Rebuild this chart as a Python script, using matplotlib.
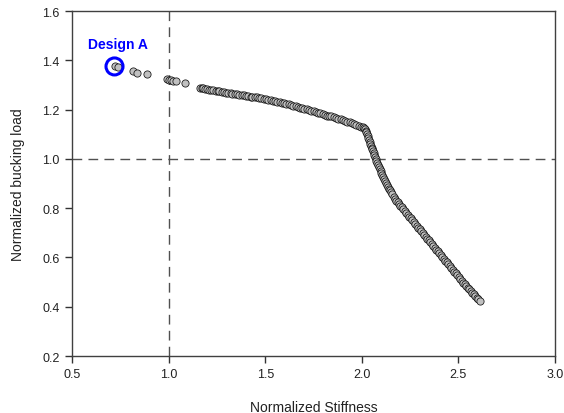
import matplotlib
matplotlib.use("Agg")
import matplotlib.pyplot as plt

plt.rcParams['font.family'] = ['Liberation Sans', 'DejaVu Sans']

# Isolated designs at low stiffness
early_x = [0.723, 0.740, 0.817, 0.838, 0.890, 0.993, 1.002, 1.011, 1.024, 1.038, 1.085]
early_y = [1.377, 1.372, 1.358, 1.349, 1.343, 1.323, 1.322, 1.321, 1.317, 1.315, 1.309]

# Upper front (nearly linear band)
band_x = [1.165, 1.172, 1.180, 1.190, 1.198, 1.210, 1.220, 1.232, 1.243, 1.255,
          1.262, 1.275, 1.288, 1.297, 1.310, 1.322, 1.330, 1.342, 1.355, 1.366,
          1.378, 1.388, 1.400, 1.412, 1.425, 1.433, 1.446, 1.458, 1.470, 1.480,
          1.492, 1.505, 1.516, 1.528, 1.540, 1.551, 1.563, 1.575, 1.587, 1.598,
          1.610, 1.622, 1.633, 1.646, 1.657, 1.668, 1.680, 1.692, 1.703, 1.715,
          1.727, 1.738, 1.750, 1.762, 1.773, 1.785, 1.797, 1.808, 1.820, 1.832,
          1.843, 1.855, 1.867, 1.878, 1.890, 1.902, 1.913, 1.925, 1.937, 1.948,
          1.960, 1.972, 1.983, 1.995, 2.005, 2.012]
band_y = [1.288, 1.287, 1.286, 1.284, 1.283, 1.281, 1.280, 1.278, 1.277, 1.275,
          1.274, 1.272, 1.271, 1.269, 1.268, 1.266, 1.265, 1.264, 1.262, 1.260,
          1.259, 1.258, 1.256, 1.255, 1.253, 1.252, 1.251, 1.249, 1.247, 1.246,
          1.244, 1.242, 1.240, 1.238, 1.236, 1.234, 1.232, 1.230, 1.228, 1.226,
          1.224, 1.221, 1.219, 1.216, 1.213, 1.211, 1.208, 1.206, 1.203, 1.201,
          1.198, 1.196, 1.193, 1.190, 1.188, 1.185, 1.183, 1.179, 1.175, 1.173,
          1.172, 1.170, 1.166, 1.163, 1.160, 1.158, 1.154, 1.151, 1.148, 1.144,
          1.141, 1.138, 1.135, 1.131, 1.128, 1.124]

# Steep descending branch
desc_x = [2.017, 2.020, 2.024, 2.027, 2.030, 2.034, 2.037, 2.041, 2.044, 2.048,
          2.051, 2.055, 2.058, 2.061, 2.065, 2.068, 2.072, 2.075, 2.079, 2.084,
          2.089, 2.094, 2.098, 2.101, 2.105, 2.110, 2.115, 2.120, 2.125, 2.131,
          2.136, 2.141, 2.146, 2.151, 2.158, 2.165, 2.172, 2.179, 2.186, 2.193,
          2.200, 2.206, 2.213, 2.222, 2.230, 2.239, 2.246, 2.253, 2.260, 2.269,
          2.277, 2.286, 2.293, 2.299, 2.306, 2.315, 2.323, 2.332, 2.339, 2.346,
          2.353, 2.362, 2.370, 2.379, 2.386, 2.393, 2.400, 2.408, 2.417, 2.425,
          2.432, 2.439, 2.446, 2.455, 2.463, 2.472, 2.479, 2.486, 2.493, 2.502,
          2.510, 2.519, 2.526, 2.532, 2.539, 2.548, 2.556, 2.565, 2.572, 2.579,
          2.586, 2.595, 2.603, 2.612]
desc_y = [1.121, 1.114, 1.108, 1.101, 1.093, 1.085, 1.077, 1.069, 1.060, 1.052,
          1.045, 1.039, 1.032, 1.024, 1.016, 1.008, 1.000, 0.991, 0.983, 0.975,
          0.967, 0.959, 0.951, 0.943, 0.935, 0.927, 0.918, 0.910, 0.902, 0.894,
          0.886, 0.879, 0.873, 0.866, 0.856, 0.847, 0.837, 0.830, 0.824, 0.817,
          0.810, 0.804, 0.797, 0.789, 0.780, 0.772, 0.765, 0.759, 0.752, 0.744,
          0.736, 0.728, 0.721, 0.715, 0.708, 0.700, 0.691, 0.683, 0.676, 0.670,
          0.663, 0.655, 0.647, 0.639, 0.632, 0.625, 0.618, 0.610, 0.602, 0.594,
          0.587, 0.581, 0.574, 0.566, 0.557, 0.549, 0.542, 0.536, 0.529, 0.521,
          0.513, 0.505, 0.498, 0.491, 0.484, 0.477, 0.471, 0.464, 0.457, 0.451,
          0.444, 0.437, 0.431, 0.424]

design_a = (0.720, 1.375)
design_label = "Design A"
x_ticks = [0.5, 1.0, 1.5, 2.0, 2.5, 3.0]
y_ticks = [0.2, 0.4, 0.6, 0.8, 1.0, 1.2, 1.4, 1.6]

fig = plt.figure(figsize=(5.64, 4.14), dpi=100)
ax = fig.add_axes([72/564, 1-357/414, (555-72)/564, (357-12)/414])

dash_col = '#505050'
ax.axvline(1.0, color=dash_col, lw=1.0, dashes=(7, 4.5), zorder=1)
ax.axhline(1.0, color=dash_col, lw=1.0, dashes=(7, 4.5), zorder=1)

all_x = early_x + band_x + desc_x
all_y = early_y + band_y + desc_y
ax.scatter(all_x, all_y, s=27, facecolor='#c0c0c0', edgecolor='#111111',
           linewidths=0.55, zorder=3)

ax.scatter([design_a[0]], [design_a[1]], s=150, facecolor='none',
           edgecolor='#0000ff', linewidths=2.2, zorder=4)
ax.text(0.738, 1.468, design_label, color='#0000ff', fontsize=10,
        fontweight='bold', ha='center', va='center')

ax.set_xlim(0.5, 3.0)
ax.set_ylim(0.2, 1.6)
ax.set_xticks(x_ticks)
ax.set_xticklabels([f"{v:.1f}" for v in x_ticks])
ax.set_yticks(y_ticks)
ax.set_yticklabels([f"{v:.1f}" for v in y_ticks])
ax.tick_params(direction='out', length=5, width=1, colors='#333333',
               labelcolor='#222222', labelsize=9, pad=4)
for s in ax.spines.values():
    s.set_color('#404040')
    s.set_linewidth(1.0)

ax.set_xlabel("Normalized Stiffness", fontsize=10, color='#222222', labelpad=14)
ax.set_ylabel("Normalized bucking load", fontsize=10, color='#222222', labelpad=12)

fig.savefig("out.png", dpi=100)
